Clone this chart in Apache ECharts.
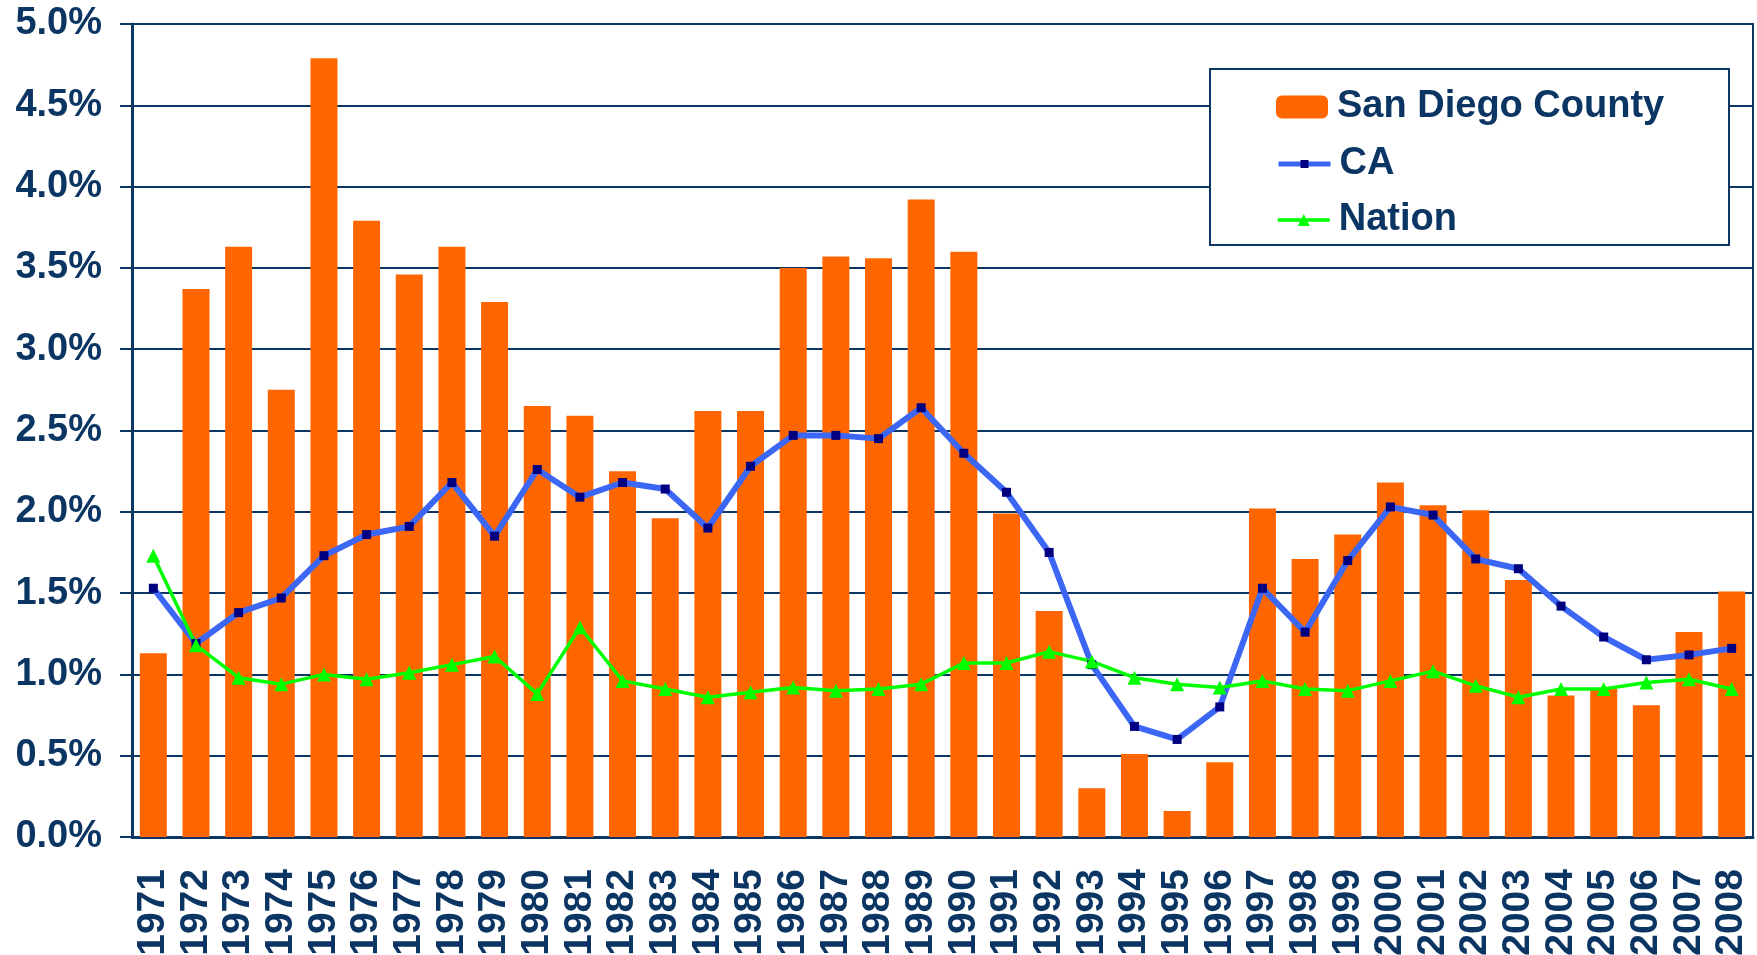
<!DOCTYPE html>
<html>
<head>
<meta charset="utf-8">
<script src="https://cdn.jsdelivr.net/npm/echarts@6/dist/echarts.min.js"></script>
<style>
  html, body { margin: 0; padding: 0; background: #fff; }
  #chart { width: 1757px; height: 955px; }
</style>
</head>
<body>
<div id="chart"></div>
<script>
var years = ['1971', '1972', '1973', '1974', '1975', '1976', '1977', '1978', '1979', '1980',
    '1981', '1982', '1983', '1984', '1985', '1986', '1987', '1988', '1989', '1990',
    '1991', '1992', '1993', '1994', '1995', '1996', '1997', '1998', '1999', '2000',
    '2001', '2002', '2003', '2004', '2005', '2006', '2007', '2008'];

// growth rates in percent
var sanDiego = [1.13, 3.37, 3.63, 2.75, 4.79, 3.79, 3.46, 3.63, 3.29, 2.65,
    2.59, 2.25, 1.96, 2.62, 2.62, 3.50, 3.57, 3.56, 3.92, 3.60,
    1.99, 1.39, 0.30, 0.51, 0.16, 0.46, 2.02, 1.71, 1.86, 2.18,
    2.04, 2.01, 1.58, 0.87, 0.91, 0.81, 1.26, 1.51];
var ca = [1.53, 1.19, 1.38, 1.47, 1.73, 1.86, 1.91, 2.18, 1.85, 2.26,
    2.09, 2.18, 2.14, 1.90, 2.28, 2.47, 2.47, 2.45, 2.64, 2.36,
    2.12, 1.75, 1.06, 0.68, 0.60, 0.80, 1.53, 1.26, 1.70, 2.03,
    1.98, 1.71, 1.65, 1.42, 1.23, 1.09, 1.12, 1.16];
var nation = [1.73, 1.18, 0.98, 0.94, 1.00, 0.97, 1.01, 1.06, 1.11, 0.88,
    1.29, 0.96, 0.91, 0.86, 0.89, 0.92, 0.90, 0.91, 0.94, 1.07,
    1.07, 1.14, 1.08, 0.98, 0.94, 0.92, 0.96, 0.91, 0.90, 0.96,
    1.02, 0.93, 0.86, 0.91, 0.91, 0.95, 0.97, 0.91];

var navy = '#0b3562';
var font = '"Liberation Sans", Arial, sans-serif';

var legendText = {
    color: navy,
    fontFamily: font,
    fontWeight: 'bold',
    fontSize: 38,
    padding: [0, 0, 0, 4]
};

function legendFor(name, top, h, extra) {
    var l = {
        left: 1276,
        top: top,
        padding: 0,
        itemWidth: 52,
        itemHeight: h,
        textStyle: legendText,
        data: [name]
    };
    return Object.assign(l, extra || {});
}

var chart = echarts.init(document.getElementById('chart'));
var option = {
    animation: false,
    backgroundColor: '#fff',
    grid: {
        left: 132,
        right: 4,
        top: 24,
        bottom: 118,
        outerBoundsMode: 'none',
        show: true,
        borderColor: navy,
        borderWidth: 2
    },
    // legend frame
    graphic: [{
        type: 'rect',
        z: 3,
        shape: { x: 1210, y: 69, width: 519, height: 176 },
        style: { fill: '#fff', stroke: navy, lineWidth: 2 }
    }],
    legend: [
        legendFor('San Diego County', 88, 23),
        legendFor('CA', 145, 10, { lineStyle: { width: 5 } }),
        legendFor('Nation', 201, 15, { lineStyle: { width: 3.5 } })
    ],
    xAxis: {
        type: 'category',
        data: years,
        axisLine: { lineStyle: { color: navy, width: 3 } },
        axisTick: { show: false },
        axisLabel: {
            interval: 0,
            rotate: 90,
            margin: 32,
            color: navy,
            fontFamily: font,
            fontWeight: 'bold',
            fontSize: 39
        }
    },
    yAxis: {
        type: 'value',
        min: 0,
        max: 5,
        interval: 0.5,
        axisLine: { show: true, lineStyle: { color: navy, width: 3 } },
        axisTick: { show: true, length: 12, lineStyle: { color: navy, width: 2 } },
        splitLine: { lineStyle: { color: navy, width: 2 } },
        axisLabel: {
            margin: 30,
            color: navy,
            fontFamily: font,
            fontWeight: 'bold',
            fontSize: 38,
            formatter: function (v) { return v.toFixed(1) + '%'; }
        }
    },
    series: [
        {
            name: 'San Diego County',
            type: 'bar',
            data: sanDiego,
            barWidth: 27,
            itemStyle: { color: '#ff6600' }
        },
        {
            name: 'CA',
            type: 'line',
            data: ca,
            symbol: 'rect',
            symbolSize: 9,
            lineStyle: { color: '#3c67f5', width: 6 },
            itemStyle: { color: '#000080' }
        },
        {
            name: 'Nation',
            type: 'line',
            data: nation,
            symbol: 'triangle',
            symbolSize: 14,
            lineStyle: { color: '#00ff00', width: 3.5 },
            itemStyle: { color: '#00ff00' }
        }
    ]
};
chart.setOption(option);
</script>
</body>
</html>
